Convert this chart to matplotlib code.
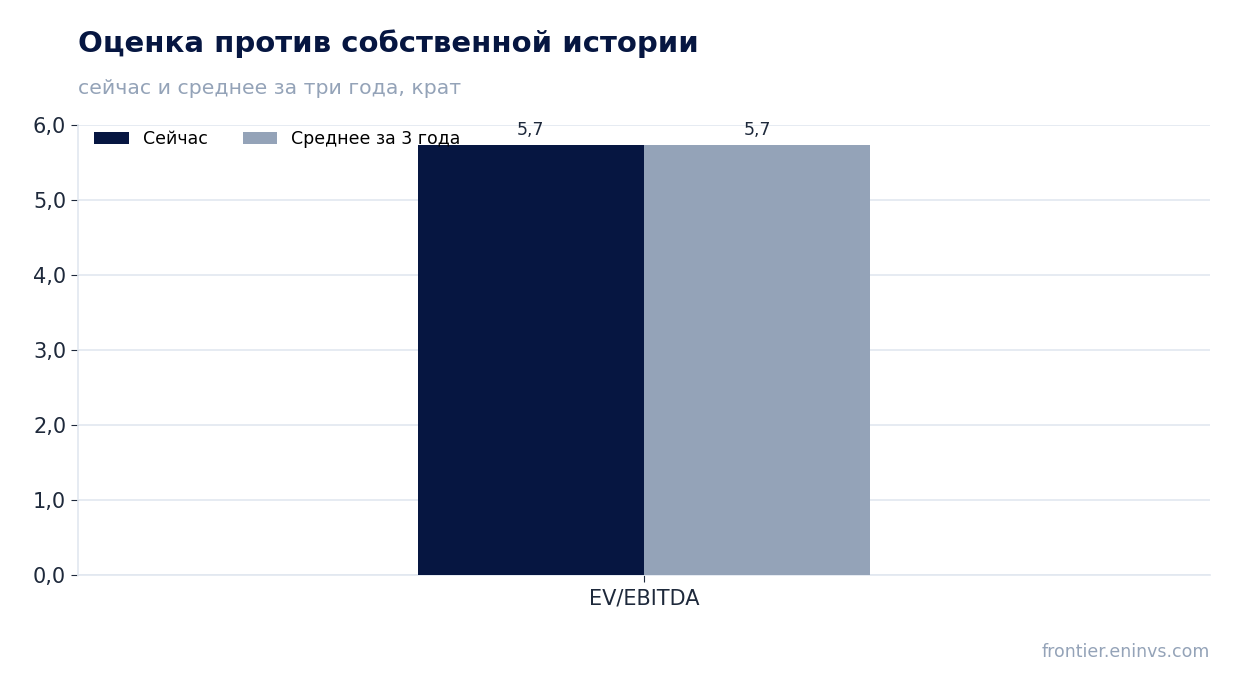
import matplotlib

matplotlib.use("Agg")
import matplotlib.pyplot as plt
from matplotlib.ticker import FuncFormatter


CATEGORIES = ["EV/EBITDA"]
SERIES_NAMES = ["Сейчас", "Среднее за 3 года"]
CURRENT_VALUES = [5.73]
AVERAGE_VALUES = [5.73]
Y_TICKS = [0, 1, 2, 3, 4, 5, 6]

TITLE = "Оценка против собственной истории"
SUBTITLE = "сейчас и среднее за три года, крат"
SOURCE = "frontier.eninvs.com"

DARK = "#061641"
GREY = "#94a3b8"
TEXT = "#1e293b"
GRID = "#e2e8f0"


def comma(value, _pos=None):
    return f"{value:.1f}".replace(".", ",")


def main():
    fig = plt.figure(figsize=(12.4, 6.93), dpi=100)
    ax = fig.add_axes([0.0629, 0.1703, 0.9129, 0.6493])

    width = 0.4
    positions = list(range(len(CATEGORIES)))
    left = [p - width / 2 for p in positions]
    right = [p + width / 2 for p in positions]

    bars_now = ax.bar(left, CURRENT_VALUES, width, color=DARK, label=SERIES_NAMES[0], zorder=3)
    bars_avg = ax.bar(right, AVERAGE_VALUES, width, color=GREY, label=SERIES_NAMES[1], zorder=3)

    for bars in (bars_now, bars_avg):
        for bar in bars:
            ax.annotate(
                comma(bar.get_height()),
                (bar.get_x() + bar.get_width() / 2, bar.get_height()),
                xytext=(0, 4.5),
                textcoords="offset points",
                ha="center",
                va="bottom",
                fontsize=12.5,
                color=TEXT,
            )

    ax.set_xlim(-1, 1)
    ax.set_ylim(0, 6)
    ax.set_yticks(Y_TICKS)
    ax.yaxis.set_major_formatter(FuncFormatter(comma))
    ax.set_xticks(positions)
    ax.set_xticklabels(CATEGORIES)

    ax.grid(axis="y", color=GRID, linewidth=1.2, zorder=0)
    ax.set_axisbelow(True)
    for side in ("top", "right"):
        ax.spines[side].set_visible(False)
    for side in ("left", "bottom"):
        ax.spines[side].set_color(GRID)
        ax.spines[side].set_linewidth(1.2)

    ax.tick_params(axis="both", colors=TEXT, labelsize=15, length=5)
    ax.tick_params(axis="x", pad=4.5)

    ax.legend(
        loc="upper left",
        ncol=2,
        frameon=False,
        fontsize=12.5,
        handlelength=2.0,
        handleheight=0.7,
        columnspacing=2.0,
        borderaxespad=0.55,
        bbox_to_anchor=(0.0, 1.025),
    )

    fig.text(78 / 1240, 1 - 44 / 693, TITLE, fontsize=21, fontweight="bold", color=DARK, va="center")
    fig.text(78 / 1240, 1 - 88 / 693, SUBTITLE, fontsize=14.7, color=GREY, va="center")
    fig.text(1210 / 1240, 1 - 652 / 693, SOURCE, fontsize=12.5, color=GREY, ha="right", va="center")

    fig.savefig("out.png", dpi=100)
    plt.close(fig)


if __name__ == "__main__":
    main()
